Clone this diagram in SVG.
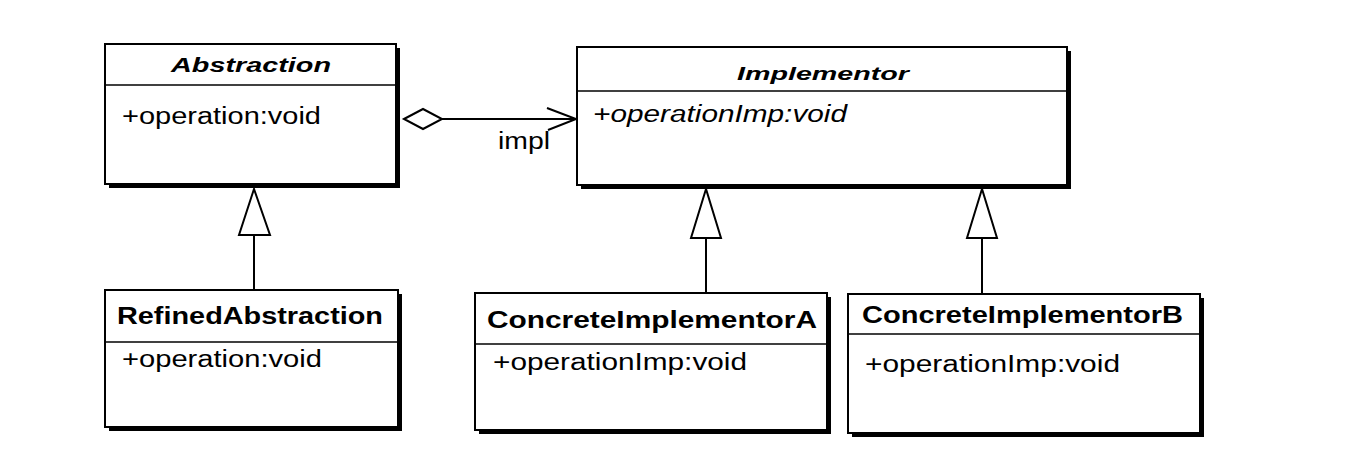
<svg xmlns="http://www.w3.org/2000/svg" width="1364" height="474" viewBox="0 0 1364 474">
<style>
.shadow{fill:#000}
.box{fill:#fff;stroke:#000;stroke-width:2}
.div{stroke:#000;stroke-width:1.5}
.t{font-family:"Liberation Sans",Arial,sans-serif;font-weight:bold;fill:#000}
.ti{font-style:italic}
.a{font-family:"Liberation Sans",Arial,sans-serif;font-size:23px;fill:#000}
.ln{stroke:#000;stroke-width:2;fill:none}
.tri{fill:#fff;stroke:#000;stroke-width:2;stroke-linejoin:miter}
</style>
<rect width="1364" height="474" fill="#fff"/>
<g id="connectors">
  <line class="ln" x1="442" y1="119" x2="576" y2="119"/>
  <polygon class="tri" points="404,119 423,109 442,119 423,129"/>
  <polyline class="ln" points="547,108 576,119 548,130"/>
  <text class="a" x="498" y="149" textLength="52" lengthAdjust="spacingAndGlyphs">impl</text>
  <line class="ln" x1="254" y1="235" x2="254" y2="290"/>
  <polygon class="tri" points="254,189 239,235 270,235"/>
  <line class="ln" x1="706" y1="238" x2="706" y2="293"/>
  <polygon class="tri" points="706,189 691,238 721,238"/>
  <line class="ln" x1="982" y1="238" x2="982" y2="294"/>
  <polygon class="tri" points="982,189 967,238 997,238"/>
</g>
<g id="Abstraction">
  <rect class="shadow" x="109" y="48" width="291" height="140"/>
  <rect class="box" x="105" y="44" width="291" height="140"/>
  <line class="div" x1="105" y1="85" x2="396" y2="85"/>
  <text class="t ti" font-size="20" x="171" y="72" textLength="160" lengthAdjust="spacingAndGlyphs">Abstraction</text>
  <text class="a" x="122" y="124" textLength="199" lengthAdjust="spacingAndGlyphs">+operation:void</text>
</g>
<g id="Implementor">
  <rect class="shadow" x="581" y="51" width="490" height="138"/>
  <rect class="box" x="577" y="47" width="490" height="138"/>
  <line class="div" x1="577" y1="91" x2="1067" y2="91"/>
  <text class="t ti" font-size="19" x="737" y="80" textLength="172" lengthAdjust="spacingAndGlyphs">Implementor</text>
  <text class="a ti" x="593" y="122" textLength="254" lengthAdjust="spacingAndGlyphs">+operationImp:void</text>
</g>
<g id="RefinedAbstraction">
  <rect class="shadow" x="109" y="294" width="293" height="137"/>
  <rect class="box" x="105" y="290" width="293" height="137"/>
  <line class="div" x1="105" y1="342" x2="398" y2="342"/>
  <text class="t" font-size="23" x="117" y="324" textLength="266" lengthAdjust="spacingAndGlyphs">RefinedAbstraction</text>
  <text class="a" x="122" y="367" textLength="200" lengthAdjust="spacingAndGlyphs">+operation:void</text>
</g>
<g id="ConcreteImplementorA">
  <rect class="shadow" x="479" y="297" width="352" height="137"/>
  <rect class="box" x="475" y="293" width="352" height="137"/>
  <line class="div" x1="475" y1="344" x2="827" y2="344"/>
  <text class="t" font-size="23" x="487" y="328" textLength="330" lengthAdjust="spacingAndGlyphs">ConcreteImplementorA</text>
  <text class="a" x="493" y="370" textLength="254" lengthAdjust="spacingAndGlyphs">+operationImp:void</text>
</g>
<g id="ConcreteImplementorB">
  <rect class="shadow" x="852" y="298" width="352" height="139"/>
  <rect class="box" x="848" y="294" width="352" height="139"/>
  <line class="div" x1="848" y1="334" x2="1200" y2="334"/>
  <text class="t" font-size="23" x="862" y="323" textLength="321" lengthAdjust="spacingAndGlyphs">ConcreteImplementorB</text>
  <text class="a" x="865" y="372" textLength="255" lengthAdjust="spacingAndGlyphs">+operationImp:void</text>
</g>
</svg>
